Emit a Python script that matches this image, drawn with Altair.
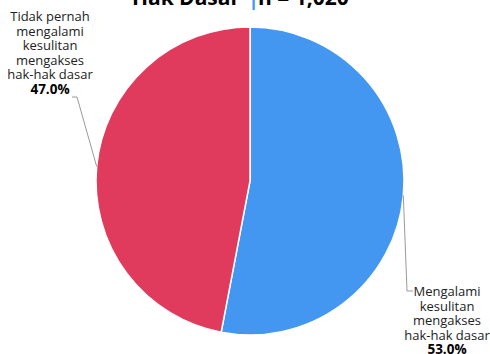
import math
import altair as alt
import pandas as pd

# ---- data ----
categories = ["Mengalami kesulitan mengakses hak-hak dasar",
              "Tidak pernah mengalami kesulitan mengakses hak-hak dasar"]
values = [53.0, 47.0]
label_lines = [["Mengalami", "kesulitan", "mengakses", "hak-hak dasar"],
               ["Tidak pernah", "mengalami", "kesulitan", "mengakses", "hak-hak dasar"]]
pct_labels = ["53.0%", "47.0%"]
title_parts = ["Hak Dasar", "|", "n = 1,020"]

# ---- layout / style ----
W, H = 490, 354
CX, CY, R = 250, 181, 154
colors = ["#4497F0", "#E03A5C"]
FONT = "Open Sans"
LH = 14.6
# label block anchor (center x, first-line center y), elbow & end of leader line
label_layout = [
    dict(x=447, y=292, elbow=(407, 291), end=(413, 291)),
    dict(x=50, y=17, elbow=(77, 97), end=(72, 97)),
]

pie_df = pd.DataFrame({"cat": categories, "value": values, "order": [0, 1]})

arc = alt.Chart(pie_df).mark_arc(outerRadius=R, stroke="white", strokeWidth=1.5).encode(
    theta=alt.Theta("value:Q", stack=True),
    color=alt.Color("cat:N", scale=alt.Scale(domain=categories, range=colors), legend=None),
    order=alt.Order("order:Q"),
    x=alt.value(CX),
    y=alt.value(CY),
)

# leader lines from slice mid-angle on the pie edge
total = sum(values)
rows = []
cum = 0.0
for i, v in enumerate(values):
    mid = (cum + v / 2) / total * 2 * math.pi
    cum += v
    ex = CX + R * math.sin(mid)
    ey = CY - R * math.cos(mid)
    lay = label_layout[i]
    pts = [(ex, ey), lay["elbow"], lay["end"]]
    for k, (px, py) in enumerate(pts):
        rows.append({"cat": categories[i], "k": k, "px": px, "py": py})
lead_df = pd.DataFrame(rows)

leaders = alt.Chart(lead_df).mark_line(color="#9a9a9a", strokeWidth=1).encode(
    x=alt.X("px:Q", scale=None),
    y=alt.Y("py:Q", scale=None),
    detail="cat:N",
    order="k:Q",
)

# label text rows
trows = []
prows = []
for i, lines in enumerate(label_lines):
    lay = label_layout[i]
    for j, t in enumerate(lines):
        trows.append({"t": t, "tx": lay["x"], "ty": lay["y"] + j * LH})
    prows.append({"t": pct_labels[i], "tx": lay["x"], "ty": lay["y"] + len(lines) * LH})
txt_df = pd.DataFrame(trows)
pct_df = pd.DataFrame(prows)

labels = alt.Chart(txt_df).mark_text(font=FONT, fontSize=13, color="#222222",
                                     align="center", baseline="middle").encode(
    x=alt.X("tx:Q", scale=None), y=alt.Y("ty:Q", scale=None), text="t:N")
pcts = alt.Chart(pct_df).mark_text(font=FONT, fontSize=13.5, fontWeight="bold", color="#000000",
                                   align="center", baseline="middle").encode(
    x=alt.X("tx:Q", scale=None), y=alt.Y("ty:Q", scale=None), text="t:N")

# clipped title (only bottom of last line visible)
title_df = pd.DataFrame({"t": title_parts, "tx": [240, 253.5, 258]})
tstyle = dict(font=FONT, fontSize=21, fontWeight="bold", baseline="alphabetic")
t1 = alt.Chart(title_df.iloc[[0]]).mark_text(align="right", color="#000000", **tstyle).encode(
    x=alt.X("tx:Q", scale=None), y=alt.value(5), text="t:N")
t2 = alt.Chart(title_df.iloc[[1]]).mark_text(align="center", color="#4497F0", **tstyle).encode(
    x=alt.X("tx:Q", scale=None), y=alt.value(5), text="t:N")
t3 = alt.Chart(title_df.iloc[[2]]).mark_text(align="left", color="#000000", **tstyle).encode(
    x=alt.X("tx:Q", scale=None), y=alt.value(5), text="t:N")

chart = alt.layer(arc, leaders, labels, pcts, t1, t2, t3).properties(
    width=W, height=H, padding=0, autosize=alt.AutoSizeParams(type="none"),
    background="white",
).configure_view(stroke=None)

chart.save("out.html", embed_options={"renderer": "svg", "actions": False})
